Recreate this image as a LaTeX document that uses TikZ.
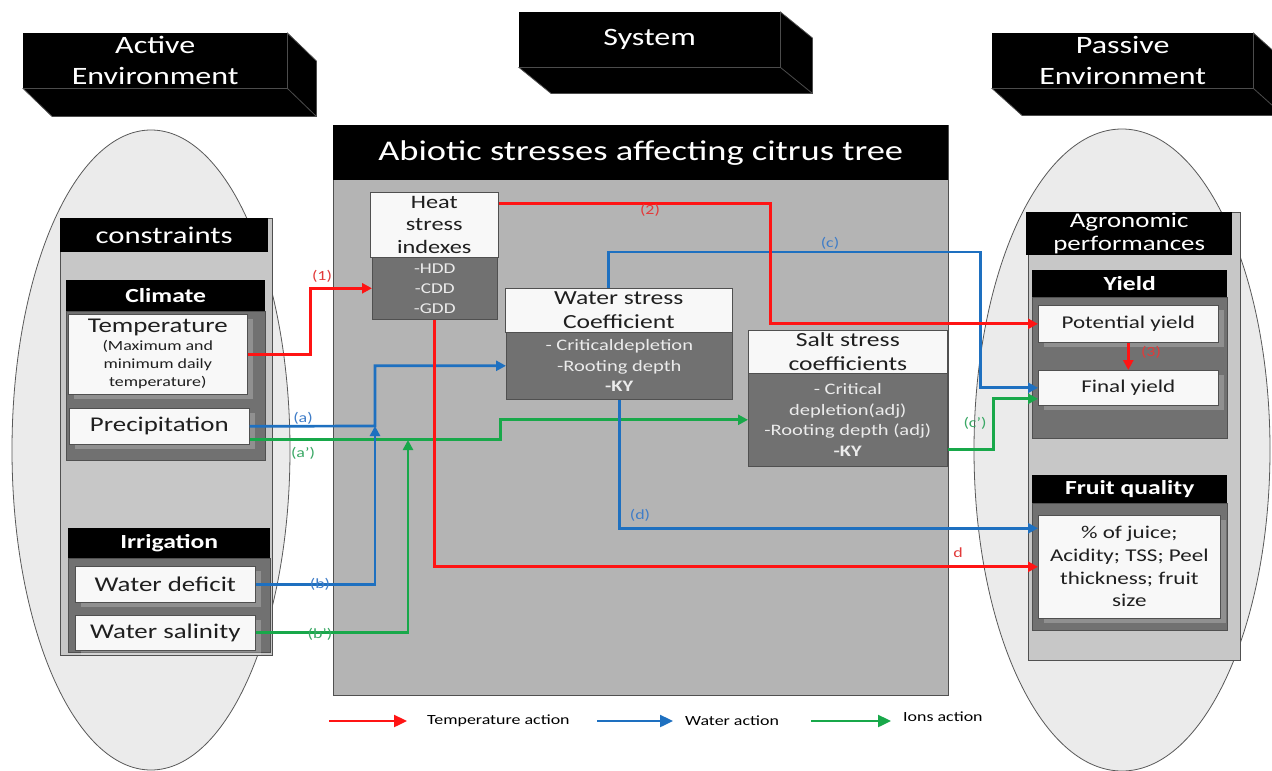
\documentclass[tikz,border=0pt]{standalone}
\usepackage{fontspec}
\setmainfont{Carlito}[FakeStretch=1.28]
\usetikzlibrary{arrows.meta,shadows}
\definecolor{cred}{HTML}{FF1414}
\definecolor{cblue}{HTML}{1E70C0}
\definecolor{cgreen}{HTML}{18A84A}
\definecolor{lred}{HTML}{E23A3A}
\definecolor{lblue}{HTML}{3F7DC8}
\definecolor{lgreen}{HTML}{3AA865}
\definecolor{ellfill}{HTML}{EBEBEB}
\definecolor{panel}{HTML}{C7C7C7}
\definecolor{darkp}{HTML}{717171}
\definecolor{cpanel}{HTML}{B4B4B4}
\definecolor{boxw}{HTML}{F8F8F8}
\definecolor{bordc}{HTML}{505050}
\newcommand\fsz[2]{\fontsize{#1}{#2}\selectfont}
\newcommand\depthfaces[3]{%
  \filldraw[face] (#1.north east) -- ++(#2,#3) -- ([shift={(#2,#3)}]#1.south east)
    -- ([shift={(#2,#3)}]#1.south west) -- (#1.south west) -- (#1.south east) -- cycle;
  \draw[faceedge] (#1.south east) -- ++(#2,#3);}
\begin{document}
\begin{tikzpicture}[x=1pt,y=-1pt,
  hdr/.style={fill=black,text=white,inner sep=0pt,anchor=north west,align=center},
  wbox/.style={fill=boxw,draw=bordc,line width=0.6pt,inner sep=0pt,anchor=north west,align=center,text=black!88},
  dbox/.style={fill=darkp,draw=bordc,line width=0.6pt,inner sep=0pt,anchor=north west,align=center,text=white!92!black},
  sh/.style={drop shadow={shadow xshift=6pt,shadow yshift=-5pt,fill=white,opacity=0.22}},
  ell/.style={fill=ellfill,draw=black!65,line width=0.8pt},
  pan/.style={fill=panel,draw=bordc,line width=0.8pt},
  dpan/.style={fill=darkp,draw=bordc,line width=0.8pt},
  conn/.style={line width=2.7pt},
  arr/.style={conn,-{Triangle[length=10pt,width=10pt]}},
  lab/.style={inner sep=0pt,font=\fsz{14}{16}},
  leg/.style={line width=2.4pt,-{Triangle[length=13pt,width=12pt]}},
  legt/.style={inner sep=0pt,anchor=west,font=\fsz{14}{16},text=black},
  face/.style={fill=black,draw=gray!60!black,line width=0.8pt},
  faceedge/.style={draw=gray!60!black,line width=0.8pt},
]
\useasboundingbox (0,0) rectangle (1272,771);
\clip (0,0) rectangle (1272,771);
\fill[white] (0,0) rectangle (1272,771);

% ---- 3D title boxes
\node[hdr,minimum width=264pt,minimum height=55pt,font=\fsz{25}{31}] (act) at (23,33) {Active\\Environment};
\depthfaces{act}{29}{28}
\node[hdr,minimum width=261pt,minimum height=55pt,font=\fsz{25}{31}] (sys) at (519,12) {System};
\depthfaces{sys}{32}{26}
\node[hdr,minimum width=261pt,minimum height=55pt,font=\fsz{25}{31}] (pas) at (992,33) {Passive\\Environment};
\depthfaces{pas}{30}{27}

% ---- left: active environment
\draw[ell] (151,450) ellipse [x radius=139pt,y radius=320pt];
\draw[pan] (60,218) rectangle (272,655);
\node[hdr,minimum width=208pt,minimum height=34pt,font=\fsz{24}{28}] (cons) at (60,218) {constraints};
\draw[dpan] (66,311) rectangle (265,460);
\node[hdr,minimum width=199pt,minimum height=31pt,font=\bfseries\fsz{20}{24}] (clim) at (66,280) {Climate};
\node[wbox,sh,minimum width=179pt,minimum height=80pt,font=\fsz{14}{18}] (temp) at (68,314)
  {{\fsz{21}{22}Temperature}\\(Maximum and\\minimum daily\\temperature)};
\node[wbox,sh,minimum width=180pt,minimum height=36pt,font=\fsz{21}{24}] (prec) at (69,408) {Precipitation};
\draw[dpan] (68,558) rectangle (270,652);
\node[hdr,minimum width=202pt,minimum height=30pt,font=\bfseries\fsz{20}{24}] (irr) at (68,528) {Irrigation};
\node[wbox,sh,minimum width=180pt,minimum height=36pt,font=\fsz{21}{24}] (wdef) at (75,566) {Water deficit};
\node[wbox,sh,minimum width=180pt,minimum height=35pt,font=\fsz{21}{24}] (wsal) at (75,615) {Water salinity};

% ---- centre: system
\draw[fill=cpanel,draw=bordc,line width=0.8pt] (333,125) rectangle (948,695);
\node[hdr,minimum width=615pt,minimum height=55pt,font=\fsz{28.5}{32}] (abio) at (333,125) {Abiotic stresses affecting citrus tree};
\node[wbox,minimum width=128pt,minimum height=65pt,font=\fsz{19}{22.5}] (heatW) at (370,192) {Heat\\stress\\indexes};
\node[dbox,minimum width=125pt,minimum height=62pt,font=\fsz{15}{20}] (heatD) at (372,257) {-HDD\\-CDD\\-GDD};
\node[wbox,minimum width=227pt,minimum height=44pt,font=\fsz{20}{23.5}] (waterW) at (505,288) {Water stress\\Coefficient};
\node[dbox,minimum width=226pt,minimum height=67pt,font=\fsz{16}{20.5}] (waterD) at (506,332) {- Criticaldepletion\\-Rooting depth\\\textbf{-KY}};
\node[wbox,minimum width=199pt,minimum height=43pt,font=\fsz{20}{23.5}] (saltW) at (748,330) {Salt stress\\coefficients};
\node[dbox,minimum width=199pt,minimum height=93pt,font=\fsz{16}{20.7}] (saltD) at (748,373) {- Critical\\depletion(adj)\\-Rooting depth (adj)\\\textbf{-KY}};

% ---- right: passive environment
\draw[ell] (1122,450) ellipse [x radius=148pt,y radius=321pt];
\draw[pan] (1028,212) rectangle (1240,660);
\node[hdr,minimum width=206pt,minimum height=43pt,font=\fsz{21}{23}] (agro) at (1026,212) {Agronomic\\performances};
\draw[dpan] (1032,297) rectangle (1227,438);
\node[hdr,minimum width=195pt,minimum height=27pt,font=\bfseries\fsz{20}{24}] (yld) at (1032,270) {Yield};
\node[wbox,sh,minimum width=180pt,minimum height=37pt,font=\fsz{18}{22}] (pot) at (1038,305) {Potential yield};
\node[wbox,sh,minimum width=180pt,minimum height=35pt,font=\fsz{18}{22}] (final) at (1038,370) {Final yield};
\draw[dpan] (1032,503) rectangle (1227,630);
\node[hdr,minimum width=195pt,minimum height=28pt,font=\bfseries\fsz{20}{24}] (fq) at (1032,475) {Fruit quality};
\node[wbox,sh,minimum width=182pt,minimum height=103pt,font=\fsz{18}{22.7}] (fruit) at (1038,515) {\% of juice;\\Acidity; TSS; Peel\\thickness; fruit\\size};

% ---- connectors
\coordinate (jn) at (375,426);
\coordinate (jg) at (408,440);
% ions
\draw[arr,cgreen] ([yshift=-13pt]prec.east) -- ++(251,0) |- (saltD.west);
\draw[arr,cgreen] (wsal.east) -| (jg);
\draw[arr,cgreen] ([yshift=-30pt]saltD.east) -- ++(46,0) |- ([yshift=-11pt]final.west);
% water
\draw[arr,cblue] (prec.east) -- (jn) |- (waterD.west);
\draw[arr,cblue] (wdef.east) -| (jn);
\draw[arr,cblue] ([xshift=-10pt]waterW.north) -- ++(0,-36) -- ++(372,0) |- (final.west);
\draw[arr,cblue] (waterD.south) |- ([yshift=38.5pt]fruit.west);
% temperature
\draw[arr,cred] (temp.east) -- ++(63,0) |- (heatD.west);
\draw[arr,cred] ([yshift=21.5pt]heatW.east) -- ++(272,0) |- (pot.west);
\draw[arr,cred] (heatD.south) |- (fruit.west);
\draw[arr,cred] (pot.south) -- (final.north);

% ---- labels
\node[lab,text=lred] (l1) at (322,276) {(1)};
\node[lab,text=lred] (l2) at (650,210) {(2)};
\node[lab,text=lblue] (lc) at (830,243) {(c)};
\node[lab,text=lblue] (la) at (303,418) {(a)};
\node[lab,text=lgreen] (la2) at (303,453) {(a')};
\node[lab,text=lblue] (lb) at (320,584) {(b)};
\node[lab,text=lgreen] (lb2) at (320,634) {(b')};
\node[lab,text=lblue] (ld) at (640,515) {(d)};
\node[lab,text=lred] (ld2) at (958,553) {d};
\node[lab,text=lgreen] (lc2) at (975,423) {(c')};
\node[lab,text=lred] (l3) at (1151,352) {(3)};

% ---- legend
\node[legt] (lgT) at (427,721) {Temperature action};
\draw[leg,cred] ([xshift=-98pt]lgT.west) -- ([xshift=-20pt]lgT.west);
\node[legt] (lgW) at (685,721) {Water action};
\draw[leg,cblue] ([xshift=-88pt]lgW.west) -- ([xshift=-12pt]lgW.west);
\node[legt] (lgI) at (903,717) {Ions action};
\draw[leg,cgreen] ([xshift=-92pt,yshift=-4pt]lgI.west) -- ([xshift=-12pt,yshift=-4pt]lgI.west);
\end{tikzpicture}
\end{document}
